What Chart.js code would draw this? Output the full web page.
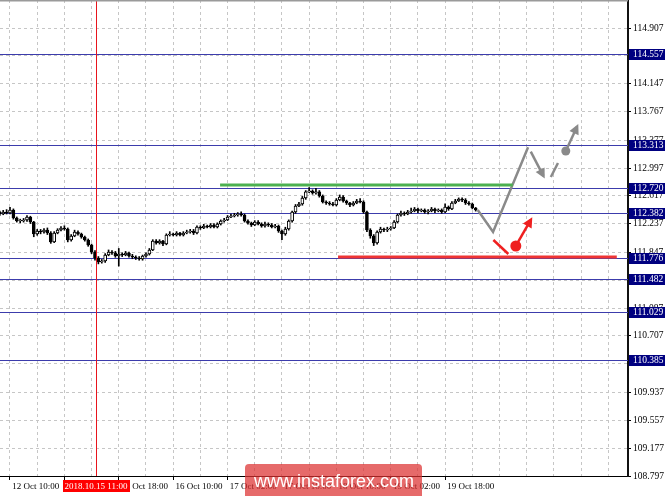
<!DOCTYPE html>
<html>
<head>
<meta charset="utf-8">
<script src="https://cdn.jsdelivr.net/npm/chart.js@4.4.0/dist/chart.umd.min.js"></script>
<style>
  html, body { margin: 0; padding: 0; background: #fff; }
  #wrap { width: 665px; height: 496px; }
</style>
</head>
<body>
<div id="wrap"><canvas id="chart" width="665" height="496"></canvas></div>
<script>
// H1 bars, bar 0 = 12 Oct 10:00
const firstBar = -3;

const opens = [
  112.398, 112.370, 112.398, 112.384, 112.425, 112.316, 112.275, 112.275, 112.288, 112.329,
  112.261, 112.098, 112.138, 112.125, 112.152, 112.111, 111.989, 112.111, 112.152, 112.179,
  112.166, 112.016, 112.070, 112.125, 112.098, 112.057, 112.016, 111.948, 111.852, 111.770,
  111.716, 111.729, 111.811, 111.852, 111.839, 111.798, 111.825, 111.811, 111.839, 111.798,
  111.784, 111.770, 111.757, 111.798, 111.825, 111.879, 112.002, 111.975, 112.002, 111.961,
  112.084, 112.098, 112.084, 112.111, 112.084, 112.111, 112.125, 112.138, 112.111, 112.193,
  112.179, 112.207, 112.193, 112.220, 112.193, 112.234, 112.275, 112.288, 112.329, 112.343,
  112.357, 112.370, 112.357, 112.275, 112.248, 112.220, 112.261, 112.234, 112.207, 112.234,
  112.220, 112.193, 112.207, 112.138, 112.098, 112.166, 112.275, 112.398, 112.480, 112.507,
  112.589, 112.671, 112.684, 112.657, 112.671, 112.616, 112.534, 112.520, 112.507, 112.493,
  112.561, 112.602, 112.548, 112.520, 112.493, 112.520, 112.548, 112.534, 112.398, 112.152,
  112.070, 111.975, 112.125, 112.166, 112.152, 112.166, 112.179, 112.261, 112.357, 112.384,
  112.370, 112.398, 112.411, 112.439, 112.411, 112.425, 112.398, 112.411, 112.439, 112.411,
  112.425, 112.398, 112.466, 112.439, 112.520, 112.548, 112.575, 112.561, 112.520, 112.507,
  112.452
];
const highs = [
  112.41, 112.42, 112.43, 112.46, 112.44, 112.33, 112.30, 112.31, 112.35, 112.34,
  112.27, 112.16, 112.16, 112.17, 112.18, 112.13, 112.13, 112.17, 112.20, 112.21,
  112.18, 112.09, 112.15, 112.14, 112.11, 112.07, 112.03, 111.96, 111.87, 111.79,
  111.75, 111.83, 111.88, 111.87, 111.86, 111.90, 111.84, 111.86, 111.85, 111.82,
  111.80, 111.79, 111.81, 111.84, 111.90, 112.02, 112.02, 112.02, 112.01, 112.10,
  112.13, 112.11, 112.13, 112.12, 112.13, 112.15, 112.16, 112.16, 112.21, 112.21,
  112.23, 112.22, 112.24, 112.24, 112.25, 112.29, 112.31, 112.35, 112.37, 112.38,
  112.39, 112.40, 112.37, 112.29, 112.26, 112.28, 112.28, 112.25, 112.26, 112.25,
  112.24, 112.23, 112.22, 112.15, 112.19, 112.29, 112.41, 112.50, 112.53, 112.61,
  112.69, 112.73, 112.70, 112.72, 112.69, 112.63, 112.55, 112.54, 112.53, 112.58,
  112.63, 112.62, 112.56, 112.53, 112.54, 112.57, 112.58, 112.55, 112.41, 112.17,
  112.09, 112.14, 112.19, 112.18, 112.19, 112.20, 112.28, 112.37, 112.41, 112.40,
  112.42, 112.45, 112.46, 112.45, 112.44, 112.44, 112.43, 112.46, 112.45, 112.44,
  112.44, 112.51, 112.48, 112.54, 112.57, 112.59, 112.59, 112.58, 112.54, 112.52,
  112.46
];
const lows = [
  112.35, 112.36, 112.37, 112.37, 112.30, 112.26, 112.25, 112.26, 112.27, 112.24,
  112.06, 112.08, 112.10, 112.11, 112.09, 111.97, 111.98, 112.10, 112.14, 112.15,
  111.99, 112.00, 112.06, 112.08, 112.04, 112.00, 111.93, 111.83, 111.74, 111.69,
  111.70, 111.71, 111.80, 111.82, 111.78, 111.66, 111.79, 111.80, 111.78, 111.76,
  111.75, 111.74, 111.74, 111.78, 111.81, 111.87, 111.96, 111.96, 111.94, 111.95,
  112.07, 112.07, 112.07, 112.07, 112.07, 112.10, 112.11, 112.09, 112.10, 112.16,
  112.17, 112.18, 112.18, 112.18, 112.18, 112.22, 112.26, 112.28, 112.32, 112.33,
  112.34, 112.34, 112.26, 112.23, 112.20, 112.21, 112.22, 112.19, 112.19, 112.20,
  112.18, 112.18, 112.12, 112.02, 112.08, 112.15, 112.26, 112.38, 112.47, 112.49,
  112.57, 112.66, 112.64, 112.64, 112.60, 112.52, 112.50, 112.49, 112.48, 112.48,
  112.55, 112.53, 112.50, 112.47, 112.48, 112.51, 112.52, 112.38, 112.13, 112.04,
  111.94, 111.96, 112.11, 112.13, 112.13, 112.15, 112.17, 112.25, 112.34, 112.35,
  112.36, 112.38, 112.40, 112.39, 112.40, 112.38, 112.37, 112.40, 112.39, 112.40,
  112.38, 112.39, 112.42, 112.43, 112.51, 112.54, 112.54, 112.50, 112.49, 112.44,
  112.41
];
const closes = [
  112.370, 112.398, 112.384, 112.425, 112.316, 112.275, 112.275, 112.288, 112.329, 112.261,
  112.098, 112.138, 112.125, 112.152, 112.111, 111.989, 112.111, 112.152, 112.179, 112.166,
  112.016, 112.070, 112.125, 112.098, 112.057, 112.016, 111.948, 111.852, 111.770, 111.716,
  111.729, 111.811, 111.852, 111.839, 111.798, 111.825, 111.811, 111.839, 111.798, 111.784,
  111.770, 111.757, 111.798, 111.825, 111.879, 112.002, 111.975, 112.002, 111.961, 112.084,
  112.098, 112.084, 112.111, 112.084, 112.111, 112.125, 112.138, 112.111, 112.193, 112.179,
  112.207, 112.193, 112.220, 112.193, 112.234, 112.275, 112.288, 112.329, 112.343, 112.357,
  112.370, 112.357, 112.275, 112.248, 112.220, 112.261, 112.234, 112.207, 112.234, 112.220,
  112.193, 112.207, 112.138, 112.098, 112.166, 112.275, 112.398, 112.480, 112.507, 112.589,
  112.671, 112.684, 112.657, 112.671, 112.616, 112.534, 112.520, 112.507, 112.493, 112.561,
  112.602, 112.548, 112.520, 112.493, 112.520, 112.548, 112.534, 112.398, 112.152, 112.070,
  111.975, 112.125, 112.166, 112.152, 112.166, 112.179, 112.261, 112.357, 112.384, 112.370,
  112.398, 112.411, 112.439, 112.411, 112.425, 112.398, 112.411, 112.439, 112.411, 112.425,
  112.398, 112.466, 112.439, 112.520, 112.548, 112.575, 112.561, 112.520, 112.507, 112.452,
  112.425
];

// horizontal price levels (right axis boxes)
const levels = [114.557, 113.313, 112.720, 112.382, 111.776, 111.482, 111.029, 110.385];

// y axis tick labels
const yTickLabels = ["114.907", "114.527", "114.147", "113.767", "113.377", "112.997", "112.617",
  "112.237", "111.847", "111.467", "111.087", "110.707", "110.327", "109.937", "109.557",
  "109.177", "108.797"];

// time labels, every 16 bars
const xTickBars = [0, 16, 32, 48, 64, 80, 96, 112, 128];
const xTickLabels = ["12 Oct 10:00", "15 Oct 02:00", "15 Oct 18:00", "16 Oct 10:00", "17 Oct 02:00",
  "17 Oct 18:00", "18 Oct 10:00", "19 Oct 02:00", "19 Oct 18:00"];

// vertical marker
const markerBar = 25.3;
const markerLabel = "2018.10.15 11:00";

// drawn forecast (bar index, price)
const resistanceLine = [{ x: 61.8, y: 112.766 }, { x: 147.9, y: 112.766 }];
const supportLine = [{ x: 96.5, y: 111.784 }, { x: 178.5, y: 111.784 }];
const grayPath = [{ x: 137.6, y: 112.425 }, { x: 142.1, y: 112.125 }, { x: 152.4, y: 113.28 }];
const grayArrowDown = [{ x: 153.2, y: 113.22 }, { x: 156.9, y: 112.89 }];
const grayDash = [{ x: 159.1, y: 112.875 }, { x: 161.2, y: 113.066 }];
const grayArrowUp = [{ x: 163.5, y: 113.23 }, { x: 166.8, y: 113.56 }];
const redDash = [{ x: 142.2, y: 112.016 }, { x: 146.6, y: 111.825 }];
const redArrowUp = [{ x: 148.8, y: 111.934 }, { x: 153.2, y: 112.29 }];

const xMin = -2.94, xMax = 181.8;
const yMin = 108.797, yMax = 115.289;
const FONT = "Liberation Serif";

const xGridBars = [];
for (let b = 0; b <= 176; b += 8) xGridBars.push(b);

const barX = closes.map((c, k) => firstBar + k);

const datasets = [];

function lineSet(data, color, width, extra) {
  return Object.assign({
    type: 'line', data, borderColor: color, borderWidth: width, pointRadius: 0,
    tension: 0, fill: false, order: 0
  }, extra || {});
}

datasets.push(lineSet(resistanceLine, '#4cb050', 3));
datasets.push(lineSet(supportLine, '#ef3434', 3));
datasets.push(lineSet(grayPath, '#8a8a8a', 2.5));
datasets.push(lineSet(grayArrowDown, '#8a8a8a', 2.5, { arrow: true }));
datasets.push(lineSet(grayDash, '#8a8a8a', 2.5));
datasets.push(lineSet(grayArrowUp, '#8a8a8a', 2.5, {
  arrow: true, pointRadius: [4.5, 0], pointBackgroundColor: '#8a8a8a', pointBorderWidth: 0
}));
datasets.push(lineSet(redDash, '#ef2020', 2.5));
datasets.push(lineSet(redArrowUp, '#ef2020', 2.5, {
  arrow: true, pointRadius: [5.5, 0], pointBackgroundColor: '#ef2020', pointBorderWidth: 0
}));

datasets.push({
  type: 'bar',
  data: barX.map((x, k) => ({ x, y: [opens[k], closes[k]] })),
  backgroundColor: closes.map((c, k) => c >= opens[k] ? '#ffffff' : '#000000'),
  borderColor: '#000', borderWidth: 1, borderSkipped: false,
  barThickness: 3, minBarLength: 1, grouped: false, order: 1
});
datasets.push({
  type: 'bar',
  data: barX.map((x, k) => ({ x, y: [lows[k], highs[k]] })),
  backgroundColor: '#000', borderWidth: 0,
  barThickness: 1, grouped: false, order: 2
});

function arrowHead(ctx, from, to, color) {
  const a = Math.atan2(to.y - from.y, to.x - from.x);
  const tipX = to.x + 3 * Math.cos(a), tipY = to.y + 3 * Math.sin(a);
  const len = 10, half = 5;
  const bx = tipX - len * Math.cos(a), by = tipY - len * Math.sin(a);
  ctx.save();
  ctx.fillStyle = color;
  ctx.beginPath();
  ctx.moveTo(tipX, tipY);
  ctx.lineTo(bx + half * Math.sin(a), by - half * Math.cos(a));
  ctx.lineTo(bx - half * Math.sin(a), by + half * Math.cos(a));
  ctx.closePath();
  ctx.fill();
  ctx.restore();
}

const overlay = {
  id: 'overlay',
  beforeDatasetsDraw(chart) {
    // price level lines, snapped to whole pixels
    const ctx = chart.ctx, area = chart.chartArea, ys = chart.scales.y;
    ctx.save();
    ctx.strokeStyle = '#3c3cac';
    ctx.lineWidth = 1;
    levels.forEach(v => {
      const y = Math.round(ys.getPixelForValue(v)) + 0.5;
      ctx.beginPath();
      ctx.moveTo(area.left, y);
      ctx.lineTo(area.right, y);
      ctx.stroke();
    });
    ctx.restore();
  },
  afterDatasetsDraw(chart) {
    const ctx = chart.ctx, area = chart.chartArea;
    const xs = chart.scales.x;
    // vertical marker line
    const mx = Math.round(xs.getPixelForValue(markerBar)) + 0.5;
    ctx.save();
    ctx.strokeStyle = '#e8141c';
    ctx.lineWidth = 1;
    ctx.beginPath();
    ctx.moveTo(mx, area.top);
    ctx.lineTo(mx, area.bottom);
    ctx.stroke();
    ctx.restore();

    chart.data.datasets.forEach((ds, i) => {
      if (!ds.arrow) return;
      const pts = chart.getDatasetMeta(i).data;
      arrowHead(ctx, pts[pts.length - 2], pts[pts.length - 1], ds.borderColor);
    });
  },
  afterDraw(chart) {
    const ctx = chart.ctx, area = chart.chartArea;
    const xs = chart.scales.x, ys = chart.scales.y;

    // top frame
    ctx.save();
    ctx.fillStyle = '#9a9a9a';
    ctx.fillRect(0, 0, area.right, 1.5);

    // level boxes on the price axis
    ctx.font = '9.5px "' + FONT + '"';
    ctx.textBaseline = 'middle';
    ctx.textAlign = 'left';
    levels.forEach(v => {
      const y = ys.getPixelForValue(v);
      ctx.fillStyle = '#000080';
      ctx.fillRect(area.right + 1, Math.round(y) - 5, chart.width - area.right - 1, 11);
      ctx.fillStyle = '#fff';
      ctx.fillText(v.toFixed(3), area.right + 5, Math.round(y) + 0.5);
    });

    // date box for the marker
    const mx = xs.getPixelForValue(markerBar);
    ctx.font = '9px "' + FONT + '"';
    const tw = ctx.measureText(markerLabel).width + 4;
    ctx.fillStyle = '#ff0000';
    ctx.fillRect(Math.round(mx - tw / 2), area.bottom + 4, Math.round(tw), 12);
    ctx.fillStyle = '#fff';
    ctx.textAlign = 'center';
    ctx.fillText(markerLabel, mx, area.bottom + 10.5);

    // watermark
    ctx.fillStyle = 'rgba(220, 48, 48, 0.72)';
    ctx.beginPath();
    ctx.roundRect(245, 464, 177, 40, 4);
    ctx.fill();
    ctx.fillStyle = '#fff';
    ctx.font = '18px "Liberation Sans"';
    ctx.textAlign = 'center';
    ctx.fillText('www.instaforex.com', 334, 482);
    ctx.restore();
  }
};

new Chart(document.getElementById('chart'), {
  type: 'bar',
  data: { datasets },
  options: {
    responsive: false,
    animation: false,
    layout: { padding: 0, autoPadding: false },
    plugins: { legend: { display: false }, tooltip: { enabled: false } },
    scales: {
      x: {
        type: 'linear', min: xMin, max: xMax, offset: false,
        afterBuildTicks: s => { s.ticks = xGridBars.map(v => ({ value: v })); },
        afterFit: s => { s.height = 20; s.paddingLeft = 0; s.paddingRight = 0; },
        grid: {
          offset: false, color: '#c6c6c6', lineWidth: 1, drawTicks: true, tickLength: 4,
          tickWidth: 1, tickBorderDash: [],
          tickColor: c => (c.tick && xTickBars.includes(c.tick.value)) ? '#000' : 'rgba(0,0,0,0)'
        },
        border: { display: true, color: '#000', width: 1, dash: [3, 3] },
        ticks: {
          autoSkip: false, maxRotation: 0, minRotation: 0, align: 'start', padding: 1,
          color: '#000', font: { family: FONT, size: 9 },
          callback: v => {
            const k = xTickBars.indexOf(v);
            return k < 0 ? '' : ' ' + xTickLabels[k];
          }
        }
      },
      y: {
        type: 'linear', position: 'right', min: yMin, max: yMax,
        afterBuildTicks: s => { s.ticks = yTickLabels.map(t => ({ value: parseFloat(t) })); },
        afterFit: s => { s.width = 37; s.paddingTop = 0; s.paddingBottom = 0; },
        grid: {
          color: '#c6c6c6', lineWidth: 1, drawTicks: true, tickLength: 3,
          tickColor: '#000', tickWidth: 1, tickBorderDash: []
        },
        border: { display: true, color: '#111', width: 2, dash: [3, 3] },
        ticks: {
          padding: 2, color: '#000', font: { family: FONT, size: 9.5 },
          callback: v => v.toFixed(3)
        }
      }
    }
  },
  plugins: [overlay]
});
</script>
</body>
</html>
